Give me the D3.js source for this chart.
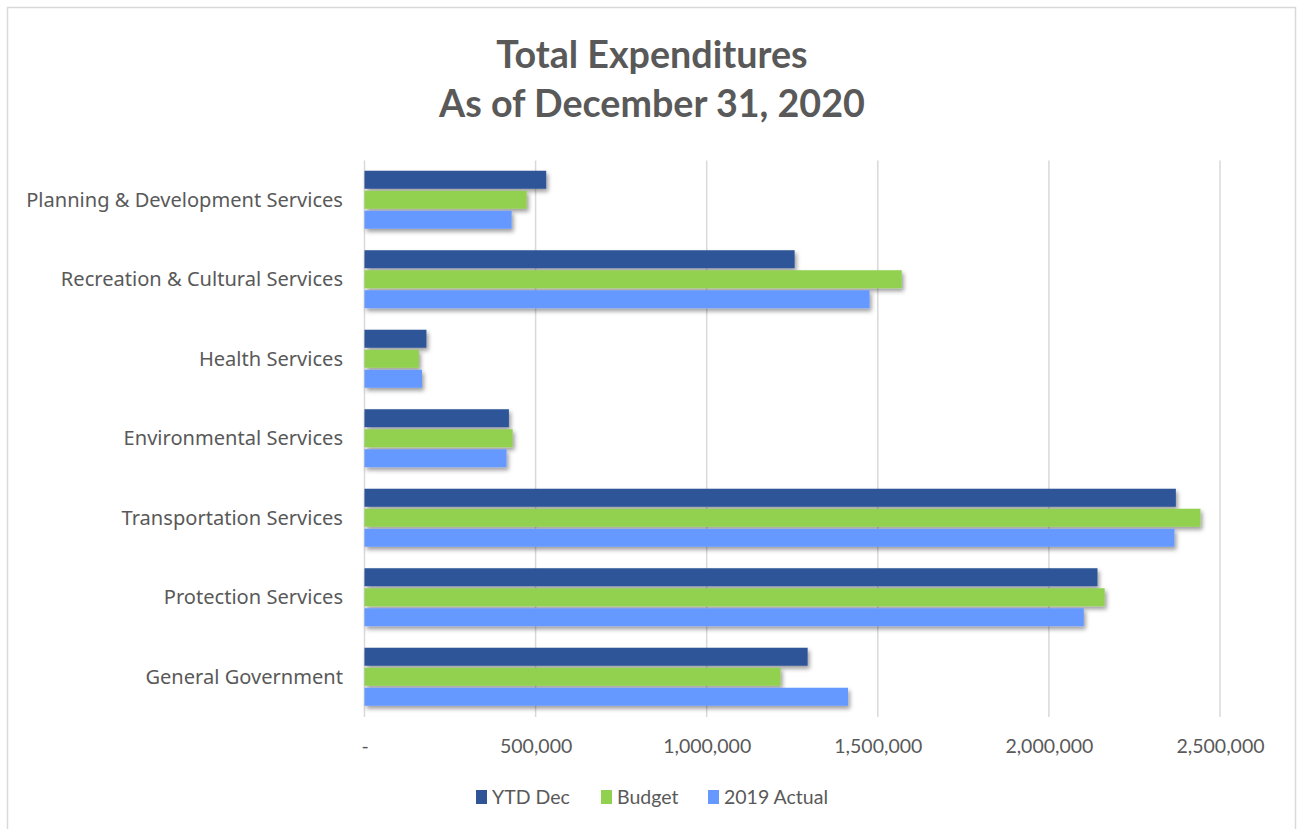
<!DOCTYPE html>
<html>
<head>
<meta charset="utf-8">
<script src="https://cdnjs.cloudflare.com/ajax/libs/d3/7.8.5/d3.min.js"></script>
<style>
  html, body { margin: 0; padding: 0; background: #ffffff; }
  svg { display: block; }
</style>
</head>
<body>
<svg id="chart" width="1299" height="829"></svg>
<script>
// Expenditure categories, top to bottom
const categories = [
  "Planning & Development Services",
  "Recreation & Cultural Services",
  "Health Services",
  "Environmental Services",
  "Transportation Services",
  "Protection Services",
  "General Government"
];

const seriesNames = ["YTD Dec", "Budget", "2019 Actual"];

const ytdDec     = [531000, 1257000, 181000, 422000, 2371000, 2142000, 1295000];
const budget     = [474000, 1570000, 159000, 433000, 2443000, 2163000, 1216000];
const actual2019 = [430000, 1476000, 168000, 415000, 2367000, 2102000, 1413000];

const tickValues = [0, 500000, 1000000, 1500000, 2000000, 2500000];
const tickLabels = ["-", "500,000", "1,000,000", "1,500,000", "2,000,000", "2,500,000"];

const titleLines = ["Total Expenditures", "As of December 31, 2020"];

const seriesValues = [ytdDec, budget, actual2019];
const colors = ["#2F5597", "#92D050", "#6699FF"];

const svg = d3.select("#chart");

// chart frame
svg.append("rect")
  .attr("x", 7.5).attr("y", 7.5)
  .attr("width", 1288).attr("height", 830)
  .attr("fill", "#ffffff")
  .attr("stroke", "#d9d9d9").attr("stroke-width", 1.5);

const defs = svg.append("defs");
const shadow = defs.append("filter").attr("id", "barShadow")
  .attr("x", "-5%").attr("y", "-30%").attr("width", "115%").attr("height", "180%");
shadow.append("feDropShadow")
  .attr("dx", 2).attr("dy", 3).attr("stdDeviation", 2)
  .attr("flood-color", "#000").attr("flood-opacity", 0.38);

// shrink or grow a text selection so its widest item spans the given width
function fitWidth(sel, baseSize, width) {
  sel.attr("font-size", baseSize);
  let widest = 0;
  sel.each(function () { widest = Math.max(widest, this.getComputedTextLength()); });
  if (widest > 0) sel.attr("font-size", baseSize * width / widest);
}

// title
const title = svg.append("g").selectAll("text")
  .data(titleLines)
  .join("text")
  .attr("x", 652)
  .attr("y", (d, i) => 68 + i * 49)
  .attr("text-anchor", "middle")
  .attr("font-family", "Lato, 'Open Sans', sans-serif")
  .attr("font-weight", "bold")
  .attr("fill", "#595959")
  .text(d => d);
fitWidth(title, 36, 426);

// scales
const x = d3.scaleLinear().domain([0, 2500000]).range([364.5, 1220]);

const y0 = d3.scaleBand()
  .domain(categories)
  .range([160.5, 717])
  .paddingInner(0.245)
  .paddingOuter(0.1225);

const y1 = d3.scaleBand()
  .domain(seriesNames)
  .range([0, y0.bandwidth()]);

// vertical gridlines
svg.append("g").selectAll("line")
  .data(tickValues)
  .join("line")
  .attr("x1", d => x(d)).attr("x2", d => x(d))
  .attr("y1", 160.5).attr("y2", 717)
  .attr("stroke", "#d9d9d9").attr("stroke-width", 1.5);

// x-axis tick labels
const xAxis = d3.axisBottom(x)
  .tickValues(tickValues)
  .tickFormat((d, i) => tickLabels[i])
  .tickSize(0)
  .tickPadding(0);

const gx = svg.append("g")
  .attr("transform", "translate(0,753)")
  .call(xAxis);
gx.select(".domain").remove();
gx.selectAll("text")
  .attr("dy", 0)
  .attr("font-family", "Lato, 'Open Sans', sans-serif")
  .attr("font-size", 19.5)
  .attr("fill", "#595959");

// category labels
const yAxis = d3.axisLeft(y0).tickSize(0).tickPadding(0);
const gy = svg.append("g")
  .attr("transform", "translate(343,0)")
  .call(yAxis);
gy.select(".domain").remove();
const catText = gy.selectAll("text")
  .attr("font-family", "'Noto Sans', 'Open Sans', sans-serif")
  .attr("fill", "#595959");
fitWidth(catText, 19, 317);

// bars
const groups = svg.append("g").selectAll("g")
  .data(categories)
  .join("g")
  .attr("transform", d => `translate(0,${y0(d)})`);

groups.selectAll("rect")
  .data((c, ci) => seriesNames.map((s, si) => ({ s, si, v: seriesValues[si][ci] })))
  .join("rect")
  .attr("x", x(0))
  .attr("y", d => y1(d.s) + 0.5)
  .attr("width", d => x(d.v) - x(0))
  .attr("height", y1.bandwidth() - 2)
  .attr("fill", (d) => colors[d.si])
  .attr("filter", "url(#barShadow)");

// legend
const legendItems = [
  { name: seriesNames[0], x: 476 },
  { name: seriesNames[1], x: 601 },
  { name: seriesNames[2], x: 708 }
];
const lg = svg.append("g").selectAll("g")
  .data(legendItems)
  .join("g")
  .attr("transform", d => `translate(${d.x},790)`);
lg.append("rect")
  .attr("width", 11).attr("height", 14)
  .attr("fill", (d, i) => colors[i]);
lg.append("text")
  .attr("x", 16).attr("y", 14)
  .attr("font-family", "Lato, 'Open Sans', sans-serif")
  .attr("font-size", 19.5)
  .attr("fill", "#595959")
  .text(d => d.name);
</script>
</body>
</html>
